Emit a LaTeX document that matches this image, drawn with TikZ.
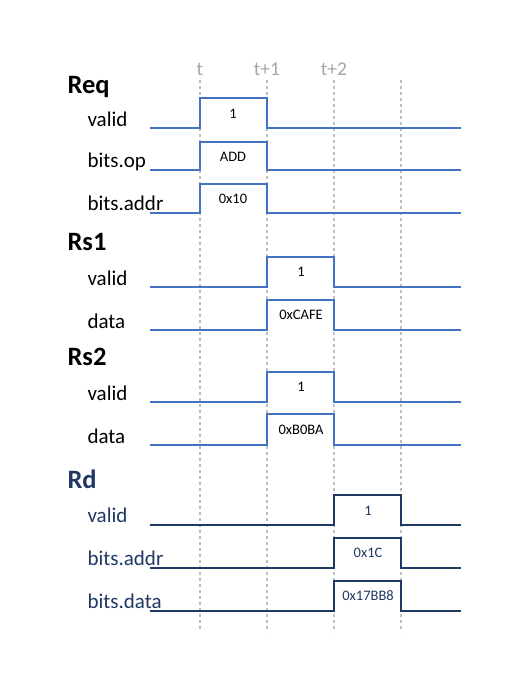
\documentclass[tikz,border=0pt]{standalone}
\usepackage{fontspec}
\setmainfont{Carlito}
\definecolor{wblue}{HTML}{4472C4}
\definecolor{wnavy}{HTML}{1F3864}
\definecolor{gridg}{HTML}{BFBFBF}
\definecolor{tlab}{HTML}{A6A6A6}
\begin{document}
\begin{tikzpicture}[x=1pt,y=-1pt,
  grp/.style={anchor=base west,font=\fontsize{26.5}{30}\selectfont\bfseries},
  sig/.style={anchor=base west,font=\fontsize{21}{24}\selectfont},
  val/.style={font=\fontsize{14.5}{16}\selectfont},
  tl/.style={text=tlab,font=\fontsize{19.5}{22}\selectfont},
  wave/.style={draw=wblue,line width=1.6pt},
  wavenavy/.style={draw=wnavy,line width=1.6pt},
  grid/.style={draw=gridg,line width=1.3pt,dash pattern=on 3pt off 3pt}]
\useasboundingbox (0,0) rectangle (515,685);
% grid
\foreach \x/\n in {200/a,267/b,334/c,401/d}{
  \draw[grid] (\x,80) -- (\x,632);
}
\node[tl] (t0) at (200,69) {t};
\node[tl] (t1) at (267,69) {t+1};
\node[tl] (t2) at (334,69) {t+2};
% Req
\node[grp] (req) at (64,93) {Req};
\node[sig] (rv) at (84,126) {valid};
\node[sig] (rop) at (84,167) {bits.op};
\node[sig] (raddr) at (84,210) {bits.addr};
\draw[wave] (150,128) -| (200,98) -| (267,128) -- (461,128);
\draw[wave] (150,170) -| (200,142) -| (267,170) -- (461,170);
\draw[wave] (150,213) -| (200,184) -| (267,213) -- (461,213);
\node[val] (v1) at (233,114) {1};
\node[val] (v2) at (233,157) {ADD};
\node[val] (v3) at (233,199) {0x10};
% Rs1
\node[grp] (rs1) at (64,250) {Rs1};
\node[sig] (s1v) at (84,285) {valid};
\node[sig] (s1d) at (84,328) {data};
\draw[wave] (150,287) -| (267,257) -| (334,287) -- (461,287);
\draw[wave] (150,330) -| (267,300) -| (334,330) -- (461,330);
\node[val] (v4) at (301,272) {1};
\node[val] (v5) at (301,315) {0xCAFE};
% Rs2
\node[grp] (rs2) at (64,365) {Rs2};
\node[sig] (s2v) at (84,400) {valid};
\node[sig] (s2d) at (84,443) {data};
\draw[wave] (150,402) -| (267,372) -| (334,402) -- (461,402);
\draw[wave] (150,445) -| (267,414) -| (334,445) -- (461,445);
\node[val] (v6) at (301,387) {1};
\node[val] (v7) at (301,430) {0xB0BA};
% Rd
\node[grp,text=wnavy] (rd) at (64,488) {Rd};
\node[sig,text=wnavy] (dv) at (84,522) {valid};
\node[sig,text=wnavy] (daddr) at (84,565) {bits.addr};
\node[sig,text=wnavy] (ddata) at (84,608) {bits.data};
\draw[wavenavy] (150,525) -| (334,495) -| (401,525) -- (461,525);
\draw[wavenavy] (150,568) -| (334,538) -| (401,568) -- (461,568);
\draw[wavenavy] (150,611) -| (334,581) -| (401,611) -- (461,611);
\node[val,text=wnavy] (v8) at (368,511) {1};
\node[val,text=wnavy] (v9) at (368,553) {0x1C};
\node[val,text=wnavy] (v10) at (368,596) {0x17BB8};
\end{tikzpicture}
\end{document}
